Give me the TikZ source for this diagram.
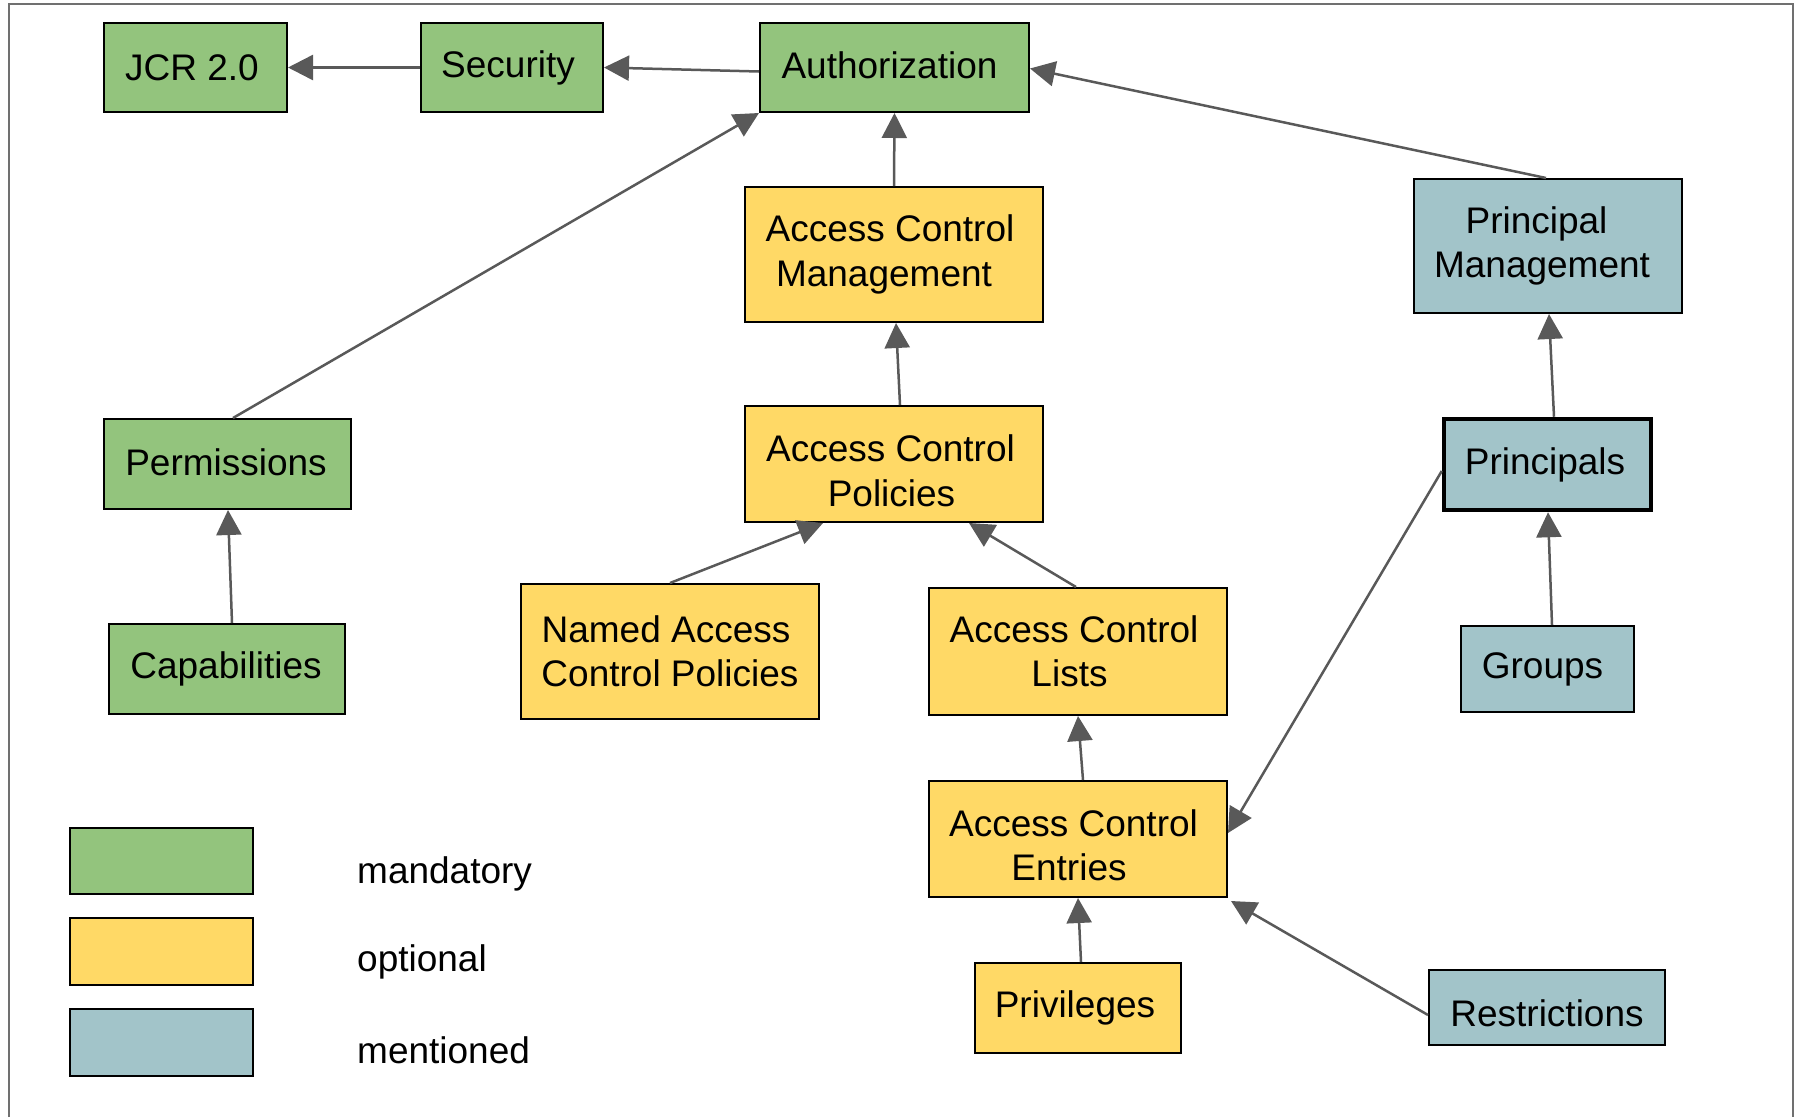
\documentclass[tikz,border=0pt]{standalone}
\usepackage{fontspec}
\setmainfont{Liberation Sans}
\usetikzlibrary{arrows.meta}
\definecolor{mandgreen}{HTML}{93C47D}
\definecolor{optyellow}{HTML}{FFD966}
\definecolor{mentblue}{HTML}{A2C4C9}
\definecolor{arrowgray}{HTML}{595959}
\definecolor{framegray}{HTML}{707070}
\newcommand{\txpad}[1]{\hspace*{#1pt}}
\newcommand{\txdown}[1]{\rule{0pt}{#1pt}}
\tikzset{
  box/.style={draw=black, line width=2pt, inner sep=0pt, align=center,
    font=\fontsize{37}{44.5}\selectfont},
  mand/.style={box, fill=mandgreen},
  opt/.style={box, fill=optyellow},
  ment/.style={box, fill=mentblue},
  conn/.style={draw=arrowgray, line width=2.5pt, -{Triangle[length=25pt,width=25pt]}},
  legtext/.style={anchor=west, inner sep=0pt, font=\fontsize{37}{44.5}\selectfont}
}
\begin{document}
\begin{tikzpicture}[x=1pt,y=-1pt]
\useasboundingbox (0,0) rectangle (1798,1117);
% frame
\draw[framegray, line width=2.2pt] (9,1117) -- (9,4) -- (1793,4) -- (1793,1117);

% nodes
\node[mand, minimum width=183pt, minimum height=89pt] (jcr) at (195.5,67.5) {JCR 2.0\txpad{7}};
\node[mand, minimum width=182pt, minimum height=89pt] (sec) at (512,67.5) {Security\txpad{8}};
\node[mand, minimum width=269pt, minimum height=89pt, text depth=5pt] (auth) at (894.5,67.5) {Authorization\txpad{10}};
\node[opt, minimum width=298pt, minimum height=135pt] (acm) at (894,254.5) {Access Control\txpad{8}\\Management\txpad{20}};
\node[ment, minimum width=268pt, minimum height=134pt] (pm) at (1548,246) {Principal\txpad{23}\\Management\txpad{12}};
\node[mand, minimum width=247pt, minimum height=90pt, text depth=4pt] (perm) at (227.5,464) {Permissions\txpad{3}};
\node[opt, minimum width=298pt, minimum height=116pt] (acp) at (894,464) {\txdown{40}Access Control\txpad{7}\\Policies\txpad{5}};
\node[ment, line width=4.5pt, minimum width=207pt, minimum height=91pt] (prin) at (1547.5,464.5) {Principals\txpad{5}};
\node[mand, minimum width=236pt, minimum height=90pt] (cap) at (227,669) {Capabilities\txpad{2}};
\node[opt, minimum width=298pt, minimum height=135pt] (nacp) at (670,651.5) {Named Access\txpad{8}\\Control Policies};
\node[opt, minimum width=298pt, minimum height=127pt] (acl) at (1078,651.5) {Access Control\txpad{8}\\Lists\txpad{17}};
\node[ment, minimum width=173pt, minimum height=86pt] (grp) at (1547.5,669) {Groups\txpad{10}};
\node[opt, minimum width=298pt, minimum height=116pt] (ace) at (1078,839) {\txdown{39}Access Control\txpad{9}\\Entries\txpad{18}};
\node[opt, minimum width=206pt, minimum height=90pt] (priv) at (1078,1008) {Privileges\txpad{6}};
\node[ment, minimum width=236pt, minimum height=75pt] (res) at (1547,1007.5) {\txdown{38}Restrictions};

% legend
\node[mand, minimum width=183pt, minimum height=66pt] (lg1) at (161.5,861) {};
\node[opt, minimum width=183pt, minimum height=67pt] (lg2) at (161.5,951.5) {};
\node[ment, minimum width=183pt, minimum height=67pt] (lg3) at (161.5,1042.5) {};
\node[legtext] (lt1) at (357,874) {mandatory};
\node[legtext] (lt2) at (357,962) {optional};
\node[legtext] (lt3) at (357,1050) {mentioned};

% connectors
\draw[conn] (sec.west) -- (jcr.east);
\draw[conn] ([yshift=-4pt]auth.west) -- (sec.east);
\draw[conn] (acm.north) -- (auth.south);
\draw[conn] ([xshift=-2pt]pm.north) -- ([yshift=-1pt]auth.east);
\draw[conn] ([xshift=5.5pt]perm.north) -- (auth.south west);
\draw[conn] ([xshift=6pt]acp.north) -- ([xshift=2pt]acm.south);
\draw[conn] (nacp.north) -- ([xshift=-71pt]acp.south);
\draw[conn] ([xshift=-2pt]acl.north) -- ([xshift=75pt]acp.south);
\draw[conn] ([xshift=5pt]ace.north) -- (acl.south);
\draw[conn] ([xshift=3pt]priv.north) -- (ace.south);
\draw[conn] ([yshift=-6.5pt]prin.west) -- ([yshift=6pt]ace.east);
\draw[conn] ([yshift=-7.5pt]res.west) -- ([xshift=3pt,yshift=-3pt]ace.south east);
\draw[conn] ([xshift=4.5pt]grp.north) -- ([xshift=0.5pt]prin.south);
\draw[conn] ([xshift=6.5pt]prin.north) -- ([xshift=1pt]pm.south);
\draw[conn] ([xshift=5pt]cap.north) -- ([xshift=0.5pt]perm.south);
\end{tikzpicture}
\end{document}
